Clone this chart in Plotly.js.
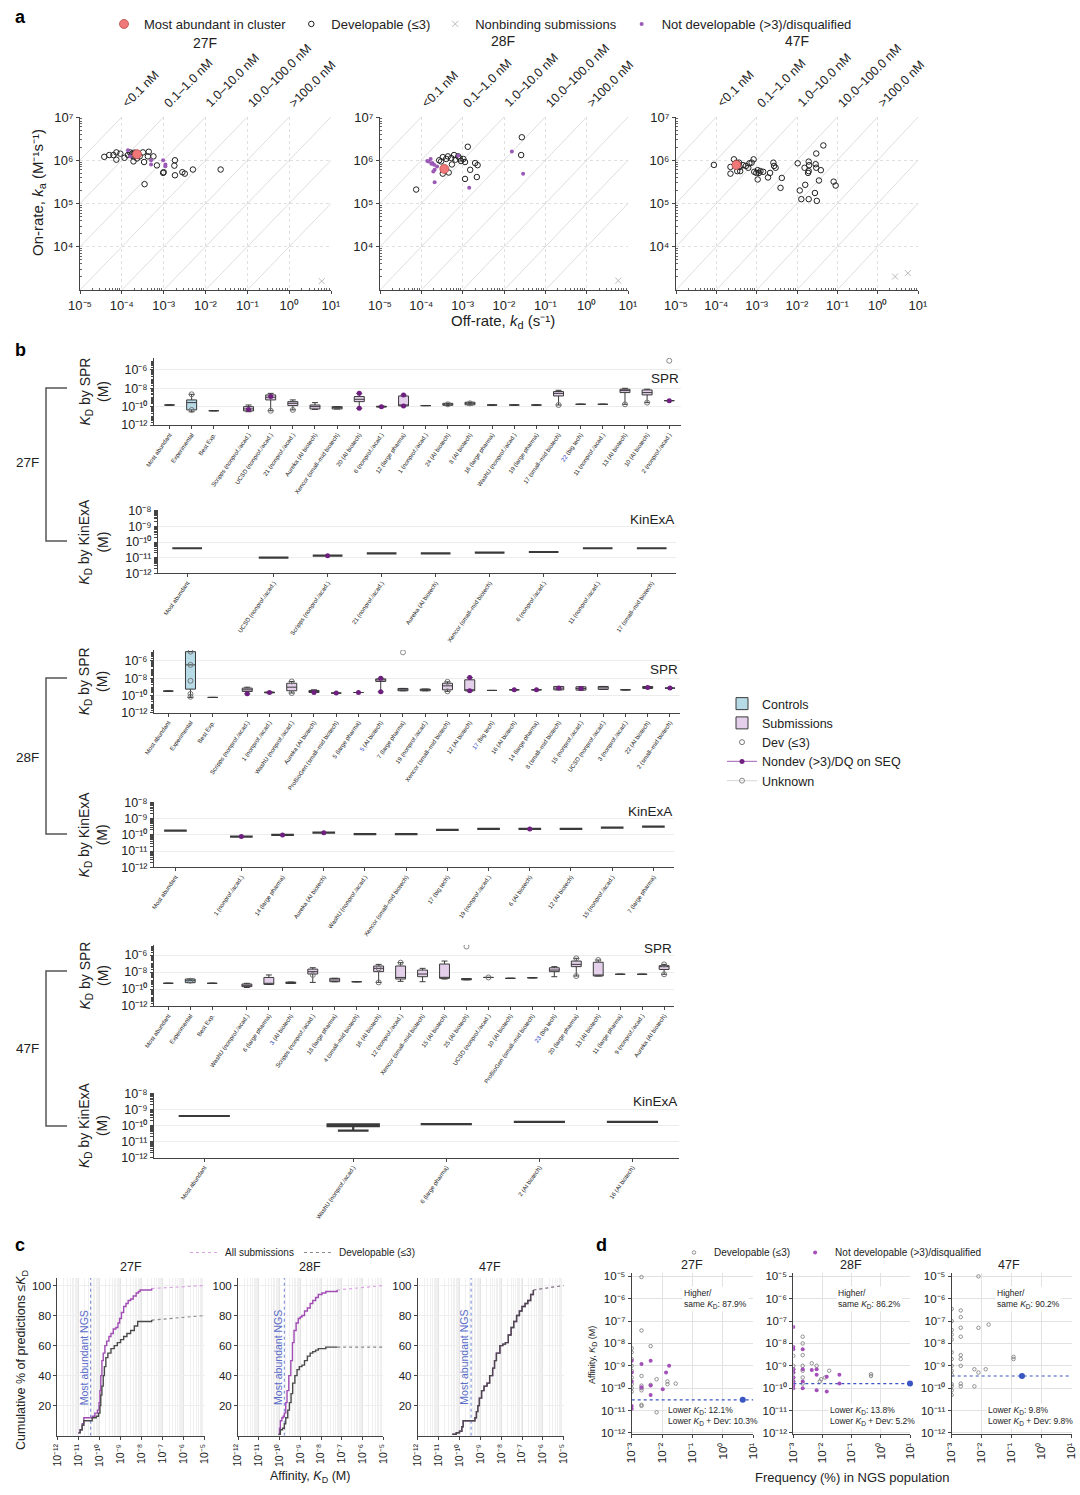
<!DOCTYPE html>
<html><head><meta charset="utf-8"><title>Figure</title>
<script src="https://cdn.plot.ly/plotly-3.0.1.min.js"></script>
<style>html,body{margin:0;padding:0;background:#fff}#fig{width:1080px;height:1495px}</style>
</head><body><div id="fig"></div>
<script>
// ======================= DATA =======================
// ---- Panel a: kinetics (kd in s^-1, ka in M^-1 s^-1)
const a27DevKd=[3.8e-5,5.0e-5,6.3e-5,7.4e-5,7.4e-5,9.2e-5,1.16e-4,1.4e-4,1.57e-4,1.76e-4,1.9e-4,1.9e-4,2.3e-4,2.67e-4,3.2e-4,3.4e-4,4.4e-4,4.2e-4,5.7e-4,6.9e-4,9.7e-4,1.0e-3,1.86e-3,1.8e-3,1.86e-3,2.8e-3,3.2e-3,5.0e-3,2.3e-2,3.5e-4,2.0e-4,1.7e-4];
const a27DevKa=[1.2e6,1.32e6,1.32e6,1.52e6,1.03e6,1.42e6,1.14e6,1.32e6,1.52e6,1.42e6,1.23e6,9.4e5,1.1e6,1.23e6,1.52e6,9.1e5,1.57e6,1.23e6,1.23e6,7.6e5,5.1e5,5.3e5,1.0e6,7.5e5,4.5e5,5.3e5,4.9e5,6.1e5,6.1e5,2.8e5,1.5e6,1.3e6];
const a27NdKd=[1.4e-4,1.57e-4,5.0e-4,5.0e-4,9.7e-4,1.1e-3,1.1e-3];
const a27NdKa=[1.7e6,1.23e6,1.0e6,8.0e5,1.0e6,8.0e5,7.3e5];
const a27MaKd=[2.3e-4], a27MaKa=[1.38e6];
const a27NbKd=[6.0], a27NbKa=[1.6e3];

const a28DevKd=[7.5e-5,2.7e-4,3.3e-4,4.0e-4,4.4e-4,5.3e-4,6.2e-4,6.7e-4,7.8e-4,9.1e-4,1.04e-3,1.14e-3,5.5e-4,3.3e-4,4.6e-4,1.33e-3,1.14e-3,1.52e-3,2.0e-3,2.3e-3,2.2e-3,2.6e-2,2.7e-2,3.0e-4,8.5e-4];
const a28DevKa=[2.1e5,1.0e6,1.18e6,1.07e6,1.23e6,1.12e6,1.32e6,1.03e6,1.23e6,9.6e5,1.07e6,9.1e5,8.0e5,4.9e5,5.2e5,2.05e6,3.7e5,6.0e5,8.6e5,7.7e5,4.1e5,1.32e6,3.4e6,9.4e5,1.1e6];
const a28NdKd=[1.39e-4,1.68e-4,1.85e-4,2.03e-4,2.1e-4,2.4e-4,1.95e-4,2.1e-4,7.8e-4,1.44e-3,1.55e-2,2.9e-2,1.5e-4,1.75e-4];
const a28NdKa=[9.6e5,1.07e6,8.6e5,7.9e5,6.0e5,7.2e5,5.5e5,3.1e5,1.27e6,2.3e5,1.6e6,4.9e5,9.3e5,8.3e5];
const a28MaKd=[3.6e-4], a28MaKa=[6.3e5];
const a28NbKd=[5.8], a28NbKa=[1.65e3];

const a47DevKd=[8.7e-5,2.24e-4,2.24e-4,2.73e-4,3.15e-4,3.46e-4,3.66e-4,3.8e-4,3.3e-4,3.9e-4,4.6e-4,5.4e-4,6.2e-4,6.6e-4,7.5e-4,8.4e-4,8.7e-4,9.8e-4,1.06e-3,1.14e-3,1.24e-3,1.45e-3,1.06e-3,1.91e-3,2.15e-3,2.6e-3,2.7e-3,2.95e-3,4.2e-3,3.9e-3,1.04e-2,1.54e-2,1.95e-2,2.0e-2,1.88e-2,1.95e-2,3.0e-2,2.9e-2,3.0e-2,3.9e-2,4.5e-2,3.5e-2,1.6e-2,1.17e-2,1.28e-2,1.95e-2,2.78e-2,3.1e-2,8.1e-2,9.1e-2];
const a47DevKa=[7.8e5,7.0e5,4.9e5,1.05e6,8.8e5,8.1e5,8.8e5,7.0e5,5.6e5,5.6e5,7.7e5,7.4e5,6.7e5,8.5e5,8.8e5,1.05e6,5.4e5,5.1e5,5.9e5,5.1e5,5.6e5,5.4e5,3.6e5,4.0e5,5.1e5,8.8e5,7.4e5,6.7e5,3.9e5,2.3e5,8.5e5,6.7e5,9.3e5,7.7e5,5.1e5,5.6e5,1.43e6,8.1e5,6.7e5,5.9e5,2.2e6,3.4e5,2.7e5,2.0e5,1.26e5,1.26e5,1.75e5,1.15e5,3.2e5,2.6e5];
const a47NdKd=[], a47NdKa=[];
const a47MaKd=[3.15e-4], a47MaKa=[7.8e5];
const a47NbKd=[2.7,5.6], a47NbKa=[2.05e3,2.45e3];

const isoKD=[1e-12,1e-11,1e-10,1e-9,1e-8,1e-7,1e-6,1e-5,1e-4];
const isoKaEnds=[1e3,1e7];
const regionLabels=['&lt;0.1 nM','0.1–1.0 nM','1.0–10.0 nM','10.0–100.0 nM','&gt;100.0 nM'];
const regionStartLogKd=[-4,-3,-2,-1,0];

// ---- Panel b: KD by SPR / KinExA (M); box statistics per entry
// 27F SPR
const b27sNames=['Most abundant','Experimental','Best Exp.','Scripps (nonprof./acad.)','UCSD (nonprof./acad.)','21 (nonprof./acad.)','Aureka (AI biotech)','Xencor (small–mid biotech)','20 (AI biotech)','6 (nonprof./acad.)','12 (large pharma)','1 (nonprof./acad.)','24 (AI biotech)','8 (AI biotech)','16 (large pharma)','WashU (nonprof./acad.)','19 (large pharma)','17 (small–mid biotech)','<span style="color:#2a3fc0">22</span> (big tech)','11 (nonprof./acad.)','13 (AI biotech)','10 (AI biotech)','2 (nonprof./acad.)'];
const b27sLo =[1.5e-10,2.8e-11,3.6e-11,2.8e-11,3.6e-11,4.4e-11,5.0e-11,5.6e-11,6.6e-11,9e-11,1.2e-10,1.3e-10,1.3e-10,1.5e-10,1.5e-10,1.5e-10,1.5e-10,1.5e-10,1.8e-10,1.8e-10,1.8e-10,2.75e-10,4.5e-10];
const b27sQ1 =[1.5e-10,4.4e-11,3.6e-11,3.4e-11,5.4e-10,1.3e-10,5.6e-11,5.6e-11,3.5e-10,9e-11,1.2e-10,1.3e-10,1.4e-10,1.6e-10,1.5e-10,1.5e-10,1.5e-10,1.45e-9,1.8e-10,1.8e-10,3.4e-9,1.9e-9,4.5e-10];
const b27sMed=[1.5e-10,2.75e-10,3.6e-11,5.6e-11,1.05e-9,2.3e-10,1.0e-10,7.9e-11,6.3e-10,1.0e-10,1.3e-10,1.3e-10,1.8e-10,2.3e-10,1.5e-10,1.5e-10,1.5e-10,2.8e-9,1.8e-10,1.8e-10,5.6e-9,3.4e-9,4.5e-10];
const b27sQ3 =[1.5e-10,5.4e-10,3.6e-11,1.0e-10,1.9e-9,3.5e-10,1.5e-10,1.0e-10,1.26e-9,1.1e-10,1.45e-9,1.3e-10,2.3e-10,3.0e-10,1.5e-10,1.5e-10,1.5e-10,4.4e-9,1.8e-10,1.8e-10,7.9e-9,6.6e-9,4.5e-10];
const b27sHi =[1.5e-10,2.2e-9,3.6e-11,1.5e-10,2.8e-9,5.4e-10,2.75e-10,1.0e-10,2.8e-9,1.1e-10,1.8e-9,1.3e-10,2.3e-10,3.0e-10,1.5e-10,1.5e-10,1.5e-10,6e-9,1.8e-10,1.8e-10,1.0e-8,8e-9,4.5e-10];
const b27sNdIdx=[3,4,8,8,9,10,10,22], b27sNdVal=[5.0e-11,1.3e-9,2.8e-9,6.6e-11,1.0e-10,1.2e-10,1.8e-9,4.5e-10];
const b27sDevIdx=[1,1,4,5,12,13,17,20,21], b27sDevVal=[2.2e-9,4.4e-11,3.6e-11,4.4e-11,1.8e-10,2.3e-10,1.5e-10,1.8e-10,2.75e-10];
const b27sUnkIdx=[22], b27sUnkVal=[1e-5];
// 27F KinExA
const b27kNames=['Most abundant','UCSD (nonprof./acad.)','Scripps (nonprof./acad.)','21 (nonprof./acad.)','Aureka (AI biotech)','Xencor (small–mid biotech)','6 (nonprof./acad.)','11 (nonprof./acad.)','17 (small–mid biotech)'];
const b27kVal=[4.0e-11,1.0e-11,1.35e-11,1.9e-11,1.9e-11,2.1e-11,2.3e-11,4.0e-11,4.0e-11];
const b27kNdIdx=[2], b27kNdVal=[1.35e-11];
// 28F SPR
const b28sNames=['Most abundant','Experimental','Best Exp.','Scripps (nonprof./acad.)','1 (nonprof./acad.)','WashU (nonprof./acad.)','Aureka (AI biotech)','ProBioGen (small–mid biotech)','5 (large pharma)','<span style="color:#2a3fc0">5</span> (AI biotech)','7 (large pharma)','19 (nonprof./acad.)','Xencor (small–mid biotech)','12 (AI biotech)','<span style="color:#2a3fc0">17</span> (big tech)','16 (AI biotech)','14 (large pharma)','8 (small–mid biotech)','15 (nonprof./acad.)','UCSD (nonprof./acad.)','3 (nonprof./acad.)','22 (AI biotech)','2 (small–mid biotech)'];
const b28sLo =[3.2e-10,5.9e-11,5.9e-11,1.55e-10,2.0e-10,1.9e-10,2.2e-10,1.9e-10,2.2e-10,2.6e-10,3.5e-10,3.5e-10,3.0e-10,3.0e-10,3.8e-10,4.5e-10,4.5e-10,4.5e-10,4.2e-10,5.0e-10,4.5e-10,6.5e-10,7.1e-10];
const b28sQ1 =[3.2e-10,5.4e-10,5.9e-11,2.9e-10,2.0e-10,3.5e-10,2.2e-10,1.9e-10,2.2e-10,4.2e-9,3.5e-10,3.5e-10,4.5e-10,3.5e-10,3.8e-10,4.5e-10,4.5e-10,4.5e-10,4.2e-10,5.0e-10,4.5e-10,6.5e-10,7.1e-10];
const b28sMed=[3.2e-10,3.5e-7,5.9e-11,4.5e-10,2.2e-10,9.1e-10,2.9e-10,1.9e-10,2.2e-10,6.5e-9,4.5e-10,4.5e-10,1.3e-9,4.5e-10,3.8e-10,4.5e-10,4.5e-10,7.1e-10,6.5e-10,7.6e-10,4.5e-10,8.3e-10,7.1e-10];
const b28sQ3 =[3.2e-10,1.2e-5,5.9e-11,7.1e-10,2.5e-10,2.6e-9,3.8e-10,1.9e-10,2.2e-10,8.3e-9,6.5e-10,5.5e-10,2.6e-9,6.5e-9,3.8e-10,4.5e-10,4.5e-10,1.1e-9,1.0e-9,1.1e-9,4.5e-10,1.1e-9,7.1e-10];
const b28sHi =[3.2e-10,1.2e-5,5.9e-11,9.1e-10,2.5e-10,4.2e-9,4.5e-10,1.9e-10,2.2e-10,1.0e-8,6.5e-10,5.5e-10,3.8e-9,1.2e-8,3.8e-10,4.5e-10,4.5e-10,1.1e-9,1.0e-9,1.1e-9,4.5e-10,1.1e-9,7.1e-10];
const b28sNdIdx=[3,4,6,7,8,9,9,13,13,15,16,17,18,21,22], b28sNdVal=[1.55e-10,2.2e-10,2.2e-10,1.9e-10,2.2e-10,1.0e-8,2.6e-10,1.2e-8,3.5e-10,4.5e-10,4.5e-10,7.1e-10,6.5e-10,8.3e-10,7.1e-10];
const b28sDevIdx=[1,1,1,1,1,5,5,12,12], b28sDevVal=[1.2e-5,3.5e-7,5.0e-9,1.5e-10,7e-11,4.2e-9,1.9e-10,3.8e-9,3.0e-10];
const b28sUnkIdx=[10], b28sUnkVal=[1e-5];
// 28F KinExA
const b28kNames=['Most abundant','1 (nonprof./acad.)','14 (large pharma)','Aureka (AI biotech)','WashU (nonprof./acad.)','Xencor (small–mid biotech)','17 (big tech)','19 (nonprof./acad.)','6 (AI biotech)','12 (AI biotech)','15 (nonprof./acad.)','7 (large pharma)'];
const b28kVal=[1.8e-10,7.8e-11,9.8e-11,1.35e-10,1.1e-10,1.1e-10,2.0e-10,2.3e-10,2.3e-10,2.3e-10,2.75e-10,3.2e-10];
const b28kNdIdx=[1,2,3,8], b28kNdVal=[7.8e-11,9.8e-11,1.35e-10,2.3e-10];
// 47F SPR
const b47sNames=['Most abundant','Experimental','Best Exp.','WashU (nonprof./acad.)','6 (large pharma)','<span style="color:#2a3fc0">3</span> (AI biotech)','Scripps (nonprof./acad.)','18 (large pharma)','4 (small–mid biotech)','16 (AI biotech)','12 (nonprof./acad.)','Xencor (small–mid biotech)','15 (AI biotech)','25 (AI biotech)','UCSD (nonprof./acad.)','10 (AI biotech)','ProBioGen (small–mid biotech)','<span style="color:#2a3fc0">23</span> (big tech)','20 (large pharma)','13 (AI biotech)','11 (large pharma)','9 (nonprof./acad.)','Aureka (AI biotech)'];
const b47sLo =[4.7e-10,5.6e-10,4.7e-10,1.5e-10,3.5e-10,4.5e-10,6.0e-10,7.2e-10,7.2e-10,6.0e-10,8e-10,7.2e-10,1.5e-9,1.2e-9,2.3e-9,1.8e-9,2.1e-9,2.8e-9,3.4e-9,3.4e-9,5.4e-9,5.4e-9,5.4e-9];
const b47sQ1 =[4.7e-10,5.6e-10,4.7e-10,1.9e-10,3.5e-10,4.5e-10,5.8e-9,7.2e-10,7.2e-10,1.1e-8,1.5e-9,2.8e-9,1.8e-9,1.2e-9,2.3e-9,1.8e-9,2.1e-9,1.1e-8,4.3e-8,3.4e-9,5.4e-9,5.4e-9,2.0e-8];
const b47sMed=[4.7e-10,9.5e-10,4.7e-10,2.7e-10,4.7e-10,5.6e-10,1.1e-8,1.15e-9,7.2e-10,2.7e-8,2.3e-9,5.8e-9,2.3e-9,1.4e-9,2.3e-9,1.8e-9,2.1e-9,1.7e-8,7.9e-8,3.4e-9,5.4e-9,5.4e-9,4.3e-8];
const b47sQ3 =[4.7e-10,1.5e-9,4.7e-10,3.9e-10,2.3e-9,6.5e-10,2.2e-8,1.8e-9,7.2e-10,5.1e-8,5.1e-8,1.7e-8,8.7e-8,1.7e-9,2.3e-9,1.8e-9,2.1e-9,3.2e-8,1.95e-7,1.4e-7,5.4e-9,5.4e-9,5.6e-8];
const b47sHi =[4.7e-10,1.5e-9,4.7e-10,4.7e-10,4.5e-9,6.5e-10,3.2e-8,1.8e-9,7.2e-10,7.9e-8,1.26e-7,2.7e-8,1.95e-7,1.7e-9,2.3e-9,1.8e-9,2.1e-9,4.3e-8,4.1e-7,2.6e-7,5.4e-9,5.4e-9,7.9e-8];
const b47sNdIdx=[], b47sNdVal=[];
const b47sDevIdx=[1,6,9,9,10,14,18,18,19,22,22], b47sDevVal=[9.5e-10,4.5e-9,2.7e-8,6e-10,1.26e-7,2.3e-9,4.1e-7,3.4e-9,2.6e-7,7.9e-8,5.4e-9];
const b47sUnkIdx=[13], b47sUnkVal=[1e-5];
// 47F KinExA
const b47kNames=['Most abundant','WashU (nonprof./acad.)','6 (large pharma)','2 (AI biotech)','16 (AI biotech)'];
const b47kLo =[3.9e-10,4.8e-11,1.23e-10,1.66e-10,1.66e-10];
const b47kQ1 =[3.9e-10,9.0e-11,1.23e-10,1.66e-10,1.66e-10];
const b47kMed=[3.9e-10,1.07e-10,1.23e-10,1.66e-10,1.66e-10];
const b47kQ3 =[3.9e-10,1.2e-10,1.23e-10,1.66e-10,1.66e-10];
const b47kHi =[3.9e-10,1.2e-10,1.23e-10,1.66e-10,1.66e-10];

// ---- Panel c: cumulative % of predictions <= KD
const c27AllKd=[1.0e-11,1.2e-11,1.5e-11,1.8e-11,4.5e-11,6e-11,8e-11,9.5e-11,1.05e-10,1.15e-10,1.3e-10,1.5e-10,1.8e-10,2.2e-10,2.8e-10,3.5e-10,4.5e-10,6e-10,7.5e-10,9e-10,1.1e-9,1.4e-9,1.8e-9,2.3e-9,3e-9,4e-9,5.5e-9,7e-9,8.5e-9,3e-8];
const c27AllPct=[2,4,8,12,13,15,17,22,30,40,50,55,60,63,66,68,71,72,75,78,82,86,88,90,91,93,95,96,97,98];
const c27DevKd=[1.0e-11,1.2e-11,1.5e-11,1.8e-11,4.5e-11,7e-11,9e-11,1.05e-10,1.15e-10,1.3e-10,1.5e-10,1.7e-10,2e-10,2.5e-10,3.5e-10,5e-10,7e-10,1.0e-9,1.4e-9,2e-9,3e-9,4.5e-9,6.5e-9,1.2e-8,3e-8];
const c27DevPct=[2,4,7,10,12,13,15,20,27,33,40,46,52,55,58,60,62,64,66,68,70,73,76,76,77];
const c27AllEnd=100, c27DevEnd=80, c27MA=3.8e-11;
const c28AllKd=[9e-11,1.0e-10,1.1e-10,1.3e-10,1.5e-10,1.7e-10,2.0e-10,2.3e-10,2.8e-10,3.5e-10,4.2e-10,5.0e-10,6.3e-10,8e-10,1.0e-9,1.2e-9,1.6e-9,2.2e-9,3e-9,4e-9,5.5e-9,7.4e-9,1.1e-8,1.7e-8,3e-8,6e-8];
const c28AllPct=[1,5,10,12,13,15,22,30,40,50,62,70,75,78,79,80,83,85,88,90,92,94,95,96,96,97];
const c28DevKd=[9e-11,1.1e-10,1.4e-10,1.7e-10,2.0e-10,2.5e-10,3.0e-10,3.6e-10,4.3e-10,5.5e-10,7e-10,9e-10,1.2e-9,1.6e-9,2.2e-9,3e-9,4e-9,5.5e-9,7.4e-9,1.1e-8,1.7e-8,3e-8,6e-8];
const c28DevPct=[1,4,5,8,12,17,22,28,35,40,44,46,47,50,53,55,56,57,58,58,59,59,59];
const c28AllEnd=100, c28DevEnd=59, c28MA=1.7e-10;
const c47AllKd=[4.5e-11,7e-11,1.0e-10,1.3e-10,1.5e-10,5.5e-10,6.5e-10,7.6e-10,9e-10,1.15e-9,1.5e-9,2.1e-9,2.8e-9,3.9e-9,4.8e-9,5.9e-9,8.7e-9,1.2e-8,1.6e-8,2.2e-8,3e-8,4e-8,5.5e-8,7.5e-8,1.0e-7,1.4e-7,1.9e-7,2.6e-7,3.5e-7];
const c47AllPct=[1,2,3,6,10,12,16,20,25,30,33,35,40,45,50,55,60,61,62,67,72,76,80,83,86,88,90,94,97];
const c47DevKd=c47AllKd.slice(), c47DevPct=c47AllPct.slice();
const c47AllEnd=100, c47DevEnd=100, c47MA=3.6e-10;

// ---- Panel d: frequency (%) in NGS population vs KD (M)
const d27DevF=[1e-3,1e-3,1e-3,1e-3,1e-3,1e-3,1e-3,1e-3,1e-3,2.1e-3,2.1e-3,2.1e-3,2.1e-3,2.1e-3,2.1e-3,2.1e-3,2.1e-3,4.2e-3,4.2e-3,6.6e-3,6.6e-3,1.5e-2,1.5e-2,2.8e-2];
const d27DevKd=[6e-9,4e-9,2e-9,1e-9,6e-10,3e-10,1.5e-10,1e-10,7e-11,9.3e-6,3.8e-8,3.5e-10,1.3e-10,1.0e-10,8e-11,1.6e-11,1.8e-11,7.6e-9,1.4e-10,2.5e-10,8.3e-12,2e-10,1.5e-10,1.6e-10];
const d27NdF=[1e-3,1e-3,1e-3,1e-3,1e-3,2.1e-3,2.1e-3,4.2e-3,4.2e-3,4.2e-3,1.05e-2,1.35e-2,1.7e-2];
const d27NdKd=[1.7e-9,5e-10,2e-10,1.2e-11,1.6e-11,1.2e-9,1.1e-10,1.7e-9,1.3e-10,5e-11,9e-11,5e-10,1.0e-9];
const d27MaF=[4.5], d27MaKd=[3.0e-11];
const d28DevF=[1e-3,1e-3,1e-3,1e-3,1e-3,1e-3,2.1e-3,2.1e-3,2.1e-3,2.1e-3,2.1e-3,2.1e-3,2.1e-3,4.3e-3,6.3e-3,8.1e-3,9e-3,1.23e-2,1.7e-2,0.46,0.46];
const d28DevKd=[2.8e-9,1e-9,7e-10,5e-10,3e-10,2e-10,2e-8,1e-8,3e-9,1e-9,6e-10,3e-10,1.6e-10,1.3e-9,1.0e-9,2.0e-10,2.5e-10,3e-10,6e-10,4.2e-10,3.5e-10];
const d28NdF=[1e-3,1e-3,1e-3,1e-3,1e-3,1e-3,1e-3,1e-3,1e-3,2.1e-3,2.1e-3,2.1e-3,2.1e-3,4.3e-3,6.3e-3,6.3e-3,6.3e-3,1.4e-2,1.4e-2,3.8e-2,3.8e-2];
const d28NdKd=[5.5e-8,7e-9,5.5e-9,7e-10,5e-10,3e-10,2e-10,1.3e-10,1e-10,5.5e-9,7e-10,2e-10,1e-10,6.5e-10,7e-10,4e-10,8e-11,3.2e-10,7e-11,4e-10,1.6e-10];
const d28MaF=[10], d28MaKd=[1.6e-10];
const d47DevF=[1e-3,1e-3,1e-3,1e-3,1e-3,1e-3,1e-3,1e-3,1e-3,1e-3,1e-3,1e-3,1e-3,1e-3,2.0e-3,2.0e-3,2.0e-3,2.0e-3,2.0e-3,2.0e-3,2.0e-3,2.0e-3,2.0e-3,5.7e-3,5.7e-3,7.8e-3,7.8e-3,7.8e-3,1.36e-2,1.7e-2,0.115,0.115];
const d47DevKd=[3.5e-7,1e-7,4e-8,2.5e-8,1.5e-8,4e-9,2e-9,1e-9,6e-10,4e-10,1.5e-10,1.2e-10,8e-11,5e-11,3e-7,1.5e-7,5e-8,2e-8,3e-9,2e-9,1e-9,1.6e-10,1.2e-10,7e-10,1.2e-10,1e-5,5e-8,5e-10,7e-10,7e-8,2.5e-9,2e-9];
const d47NdF=[], d47NdKd=[];
const d47MaF=[0.22], d47MaKd=[3.5e-10];
const dFreqEnds=[1e-3,10];
const dPct27=['87.9%','12.1%','10.3%'], dPct28=['86.2%','13.8%','5.2%'], dPct47=['90.2%','9.8%','9.8%'];

// ======================= HELPERS =======================
const W=1080,H=1495;
const FONT='"Liberation Sans", Arial, sans-serif';
const fx=p=>p/W, fy=p=>1-p/H;
const SUPCH={'0':'⁰','1':'¹','2':'²','3':'³','4':'⁴','5':'⁵','6':'⁶','7':'⁷','8':'⁸','9':'⁹','-':'⁻'};
const sup=e=>'10'+String(e).split('').map(c=>SUPCH[c]).join('');
const sb=(t,px)=>'<span style="font-size:'+px+'px;baseline-shift:-'+(px*0.3).toFixed(1)+'px">'+t+'</span>';
function logTicks(e0,e1){const v=[],t=[];for(let e=e0;e<=e1;e++){v.push(Math.pow(10,e));t.push(sup(e));}return {v,t};}
function minorVals(e0,e1){const m=[];for(let e=e0;e<e1;e++)for(let k=2;k<=9;k++)m.push(k*Math.pow(10,e));return m;}
const layout={width:W,height:H,margin:{l:0,r:0,t:0,b:0},paper_bgcolor:'#fff',plot_bgcolor:'rgba(0,0,0,0)',
  font:{family:FONT,size:11,color:'#222'},hovermode:false,annotations:[],shapes:[]};
const traces=[];
let nAx=0;
function addAxes(xa,ya){nAx++;const s=nAx===1?'':String(nAx);
  layout['xaxis'+s]=Object.assign({anchor:'y'+s},xa);layout['yaxis'+s]=Object.assign({anchor:'x'+s},ya);
  return {x:'x'+s,y:'y'+s};}
const axBase=o=>Object.assign({showline:true,linecolor:'#444',linewidth:1,ticks:'outside',ticklen:3,tickwidth:1,tickcolor:'#444',
  zeroline:false,showgrid:true,gridcolor:'#e0e0e0',griddash:'dot',gridwidth:1,tickfont:{size:11,color:'#222'},fixedrange:true},o);
function ann(text,x,y,o){layout.annotations.push(Object.assign({text,x:fx(x),y:fy(y),xref:'paper',yref:'paper',showarrow:false,
  font:{size:12,color:'#222'},xanchor:'center',yanchor:'middle'},o||{}));}

// ======================= PANEL A =======================
const aXT=logTicks(-5,1), aYT=logTicks(4,7);
function panelA(xd,dev,nd,ma,nb,first){
  const ax=addAxes(
    axBase({type:'log',range:[-5,1],domain:[fx(xd[0]),fx(xd[1])],tickmode:'array',tickvals:aXT.v,ticktext:aXT.t,tickfont:{size:13},
      minor:{tickmode:'array',tickvals:minorVals(-5,1),ticks:'inside',ticklen:2,tickcolor:'#666',showgrid:false}}),
    axBase({type:'log',range:[3,7],domain:[fy(290),fy(117)],tickmode:'array',tickvals:aYT.v,ticktext:aYT.t,tickfont:{size:13},
      minor:{tickmode:'array',tickvals:minorVals(3,7),ticks:'inside',ticklen:2,tickcolor:'#666',showgrid:false}}));
  const ix=[],iy=[];isoKD.forEach(k=>{ix.push(k*isoKaEnds[0],k*isoKaEnds[1],null);iy.push(isoKaEnds[0],isoKaEnds[1],null);});
  traces.push({type:'scatter',mode:'lines',x:ix,y:iy,xaxis:ax.x,yaxis:ax.y,line:{color:'#d6d6d6',width:0.8},showlegend:false,hoverinfo:'skip'});
  traces.push({type:'scatter',mode:'markers',x:nb[0],y:nb[1],xaxis:ax.x,yaxis:ax.y,name:'Nonbinding submissions',legendrank:3,showlegend:first,
    marker:{symbol:'x-thin',size:6,line:{color:'#bbbbbb',width:1}}});
  traces.push({type:'scatter',mode:'markers',x:dev[0],y:dev[1],xaxis:ax.x,yaxis:ax.y,name:'Developable (≤3)',legendrank:2,showlegend:first,
    marker:{symbol:'circle-open',size:5.5,color:'#222',line:{width:1}}});
  traces.push({type:'scatter',mode:'markers',x:nd[0],y:nd[1],xaxis:ax.x,yaxis:ax.y,name:'Not developable (&gt;3)/disqualified',legendrank:4,showlegend:first,
    marker:{symbol:'circle',size:4,color:'#9b59b6'}});
  traces.push({type:'scatter',mode:'markers',x:ma[0],y:ma[1],xaxis:ax.x,yaxis:ax.y,name:'Most abundant in cluster',legendrank:1,showlegend:first,
    marker:{symbol:'circle',size:9,color:'#f07878',line:{color:'#b84848',width:0.8}}});
  regionLabels.forEach((t,i)=>layout.annotations.push({text:t,x:regionStartLogKd[i]-0.12,y:fy(113),xref:ax.x,yref:'paper',showarrow:false,
    textangle:-45,xanchor:'left',yanchor:'bottom',font:{size:12.5,color:'#222'}}));
}
panelA([80,331],[a27DevKd,a27DevKa],[a27NdKd,a27NdKa],[a27MaKd,a27MaKa],[a27NbKd,a27NbKa],true);
panelA([380,628],[a28DevKd,a28DevKa],[a28NdKd,a28NdKa],[a28MaKd,a28MaKa],[a28NbKd,a28NbKa],false);
panelA([676,918],[a47DevKd,a47DevKa],[a47NdKd,a47NdKa],[a47MaKd,a47MaKa],[a47NbKd,a47NbKa],false);
ann('27F',205,43,{font:{size:14}});ann('28F',503,41,{font:{size:14}});ann('47F',797,41,{font:{size:14}});
ann('On-rate, <i>k</i>'+sb('a',11)+' (M⁻¹s⁻¹)',39,192,{textangle:-90,font:{size:15}});
ann('Off-rate, <i>k</i>'+sb('d',11)+' (s⁻¹)',503,321,{font:{size:15}});
layout.legend={orientation:'h',x:fx(104),y:fy(9),xanchor:'left',yanchor:'top',font:{size:13},bgcolor:'rgba(0,0,0,0)',itemwidth:30,traceorder:'normal'};

// ======================= PANEL B =======================
const CTRL_FILL='#b6dbe7', SUB_FILL='#e4d0ea', BOXLINE='#3a3a3a', ND_COL='#6e1f7f';
const kinYT=logTicks(-12,-8);
let bLegendShown=false;
function posOf(i,nctrl,gap){return i<nctrl?i:gap+(i-nctrl);}
function panelB(o){
  const n=o.names.length, pos=o.names.map((_,i)=>posOf(i,o.nctrl,o.gap));
  const isSpr=o.kind==='SPR';
  const yt=isSpr?{v:[1e-12,1e-10,1e-8,1e-6],t:[sup(-12),sup(-10),sup(-8),sup(-6)]}:kinYT;
  const ax=addAxes(
    axBase({range:o.xr,domain:[fx(o.xd[0]),fx(o.xd[1])],tickmode:'array',tickvals:pos,ticktext:o.names,tickangle:-55,
      tickfont:{size:6,color:'#222'},showgrid:false,ticklen:3}),
    axBase({type:'log',range:o.yr,domain:[fy(o.yd[1]),fy(o.yd[0])],tickmode:'array',tickvals:yt.v,ticktext:yt.t,griddash:'solid',gridcolor:'#ececec',
      tickfont:{size:12.5},
      minor:{tickmode:'array',tickvals:minorVals(-12,Math.ceil(o.yr[1])),ticks:'outside',ticklen:isSpr?2:3,tickcolor:'#444',showgrid:false}}));
  const groups=[[0,o.nctrl,'Controls',CTRL_FILL,1],[o.nctrl,n,'Submissions',SUB_FILL,2]];
  groups.forEach(g=>{
    const idx=[];for(let i=g[0];i<g[1];i++)idx.push(i);
    const pick=a=>idx.map(i=>a[i]);
    traces.push({type:'box',x:pick(pos),q1:pick(o.q1),median:pick(o.med),q3:pick(o.q3),lowerfence:pick(o.lo),upperfence:pick(o.hi),
      xaxis:ax.x,yaxis:ax.y,fillcolor:isSpr?g[3]:'#cfcfcf',line:{color:BOXLINE,width:isSpr?1:2.2},width:isSpr?0.45:0.55,whiskerwidth:0.6,
      boxpoints:false,name:g[2],legend:'legend2',legendrank:g[4],showlegend:!bLegendShown&&isSpr});
  });
  if(o.dev){traces.push({type:'scatter',mode:'markers',x:o.dev[0].map(i=>pos[i]),y:o.dev[1],xaxis:ax.x,yaxis:ax.y,name:'Dev (≤3)',legend:'legend2',legendrank:3,
    showlegend:!bLegendShown&&isSpr,marker:{symbol:'circle-open',size:5,color:'#777',line:{width:1}}});}
  if(o.nd&&o.nd[0].length){const xs=[],ys=[];o.nd[0].forEach((i,k)=>{xs.push(pos[i],null);ys.push(o.nd[1][k],null);});
    traces.push({type:'scatter',mode:'lines+markers',x:xs,y:ys,connectgaps:false,xaxis:ax.x,yaxis:ax.y,name:'Nondev (&gt;3)/DQ on SEQ',legend:'legend2',legendrank:4,
      showlegend:!bLegendShown&&isSpr,line:{color:'#b27cc0',width:1.2},marker:{size:5,color:ND_COL}});}
  if(o.unk){const xs=[],ys=[];o.unk[0].forEach((i,k)=>{xs.push(pos[i],null);ys.push(o.unk[1][k],null);});
    traces.push({type:'scatter',mode:'lines+markers',x:xs,y:ys,connectgaps:false,xaxis:ax.x,yaxis:ax.y,name:'Unknown',legend:'legend2',legendrank:5,
      showlegend:!bLegendShown&&isSpr,line:{color:'#dddddd',width:1.2},marker:{symbol:'circle-open',size:5,color:'#888',line:{width:1}}});}
  if(isSpr)bLegendShown=true;
  ann(o.kind==='SPR'?'SPR':'KinExA',o.labPos[0],o.labPos[1],{xanchor:'right',font:{size:13.5}});
  ann('<i>K</i>'+sb('D',10)+(isSpr?' by SPR':' by KinExA')+'<br>(M)',93,(o.yd[0]+o.yd[1])/2,{textangle:-90,font:{size:14}});
}
panelB({kind:'SPR',names:b27sNames,lo:b27sLo,q1:b27sQ1,med:b27sMed,q3:b27sQ3,hi:b27sHi,nctrl:3,gap:3.57,xr:[-0.7,23.1],xd:[154,681],yd:[358,425],yr:[-12,-4.7],
  nd:[b27sNdIdx,b27sNdVal],dev:[b27sDevIdx,b27sDevVal],unk:[b27sUnkIdx,b27sUnkVal],labPos:[681,378]});
panelB({kind:'KIN',names:b27kNames,lo:b27kVal,q1:b27kVal,med:b27kVal,q3:b27kVal,hi:b27kVal,nctrl:1,gap:1.6,xr:[-0.54,9.05],xd:[158,676],yd:[510,573.3],yr:[-12,-7.95],
  nd:[b27kNdIdx,b27kNdVal],labPos:[676,519]});
panelB({kind:'SPR',names:b28sNames,lo:b28sLo,q1:b28sQ1,med:b28sMed,q3:b28sQ3,hi:b28sHi,nctrl:3,gap:3.55,xr:[-0.64,23.0],xd:[154,680],yd:[650,712.7],yr:[-12,-4.73],
  nd:[b28sNdIdx,b28sNdVal],dev:[b28sDevIdx,b28sDevVal],unk:[b28sUnkIdx,b28sUnkVal],labPos:[680,669]});
panelB({kind:'KIN',names:b28kNames,lo:b28kVal,q1:b28kVal,med:b28kVal,q3:b28kVal,hi:b28kVal,nctrl:1,gap:1.6,xr:[-0.52,12.1],xd:[154,674],yd:[801.5,867.3],yr:[-12,-7.95],
  nd:[b28kNdIdx,b28kNdVal],labPos:[674,811]});
panelB({kind:'SPR',names:b47sNames,lo:b47sLo,q1:b47sQ1,med:b47sMed,q3:b47sQ3,hi:b47sHi,nctrl:3,gap:3.58,xr:[-0.65,23.03],xd:[154,674],yd:[945,1006],yr:[-12,-4.82],
  nd:[b47sNdIdx,b47sNdVal],dev:[b47sDevIdx,b47sDevVal],unk:[b47sUnkIdx,b47sUnkVal],labPos:[674,948]});
panelB({kind:'KIN',names:b47kNames,lo:b47kLo,q1:b47kQ1,med:b47kMed,q3:b47kQ3,hi:b47kHi,nctrl:1,gap:1.6,xr:[-0.54,5.1],xd:[154,679],yd:[1092.5,1157.7],yr:[-12,-7.95],
  labPos:[679,1101]});
// brackets
[[388,541,463,'27F'],[678,834,757,'28F'],[971,1126,1048,'47F']].forEach(b=>{
  layout.shapes.push({type:'path',xref:'paper',yref:'paper',path:`M ${fx(67)} ${fy(b[0])} L ${fx(46)} ${fy(b[0])} L ${fx(46)} ${fy(b[1])} L ${fx(67)} ${fy(b[1])}`,
    line:{color:'#555',width:1.5}});
  ann(b[3],27,b[2],{font:{size:13.5}});
});
layout.legend2={x:fx(722),y:fy(689),xanchor:'left',yanchor:'top',font:{size:12.5},bgcolor:'rgba(0,0,0,0)',itemwidth:30,tracegroupgap:0,traceorder:'normal'};

// ======================= PANEL C =======================
const cXT=logTicks(-12,-5);
function panelC(xd,all,dev,ends,ma,first){
  const ax=addAxes(
    axBase({type:'log',range:[-12,-5],domain:[fx(xd[0]),fx(xd[1])],tickmode:'array',tickvals:cXT.v,ticktext:cXT.t,tickangle:-90,tickfont:{size:10.5},
      griddash:'solid',gridcolor:'#e4e4e4',minor:{tickmode:'array',tickvals:minorVals(-12,-5),ticks:'',showgrid:true,gridcolor:'#f0f0f0',gridwidth:1}}),
    axBase({range:[0,105],domain:[fy(1435.7),fy(1278)],tickmode:'array',tickvals:[20,40,60,80,100],ticktext:['20','40','60','80','100'],
      griddash:'solid',gridcolor:'#eeeeee',tickfont:{size:11.5}}));
  traces.push({type:'scatter',mode:'lines',x:[ma,ma],y:[0,105],xaxis:ax.x,yaxis:ax.y,line:{color:'#6f80d2',width:1,dash:'dot'},showlegend:false});
  traces.push({type:'scatter',mode:'lines',x:[all[0][all[0].length-1],1e-5],y:[all[1][all[1].length-1],ends[0]],xaxis:ax.x,yaxis:ax.y,
    line:{color:'#d9a3e2',width:1.2,dash:'dot'},name:'All submissions',legend:'legend3',showlegend:first});
  traces.push({type:'scatter',mode:'lines',x:[dev[0][dev[0].length-1],1e-5],y:[dev[1][dev[1].length-1],ends[1]],xaxis:ax.x,yaxis:ax.y,
    line:{color:'#888',width:1.2,dash:'dot'},name:'Developable (≤3)',legend:'legend3',showlegend:first});
  traces.push({type:'scatter',mode:'lines',x:all[0],y:all[1],xaxis:ax.x,yaxis:ax.y,line:{color:'#a04cb4',width:1.4,shape:'hv'},showlegend:false});
  traces.push({type:'scatter',mode:'lines',x:dev[0],y:dev[1],xaxis:ax.x,yaxis:ax.y,line:{color:'#4a4a4a',width:1.4,shape:'hv'},showlegend:false});
  layout.annotations.push({text:'Most abundant NGS',x:Math.log10(ma),y:52,xref:ax.x,yref:ax.y,showarrow:false,textangle:-90,xshift:-7,
    font:{size:10.5,color:'#5a6cc8'}});
}
panelC([57.4,204.8],[c27AllKd,c27AllPct],[c27DevKd,c27DevPct],[c27AllEnd,c27DevEnd],c27MA,true);
panelC([238,383.3],[c28AllKd,c28AllPct],[c28DevKd,c28DevPct],[c28AllEnd,c28DevEnd],c28MA,false);
panelC([417.8,563.7],[c47AllKd,c47AllPct],[c47DevKd,c47DevPct],[c47AllEnd,c47DevEnd],c47MA,false);
ann('27F',131,1267,{font:{size:12.5}});ann('28F',310,1267,{font:{size:12.5}});ann('47F',490,1267,{font:{size:12.5}});
ann('Cumulative % of predictions ≤<i>K</i>'+sb('D',9),22,1360,{textangle:-90,font:{size:12.5}});
ann('Affinity, <i>K</i>'+sb('D',9)+' (M)',310,1477,{font:{size:12.5}});
layout.legend3={orientation:'h',x:fx(185),y:fy(1238),xanchor:'left',yanchor:'top',font:{size:10},bgcolor:'rgba(0,0,0,0)',itemwidth:30};

// ======================= PANEL D =======================
const dXT=logTicks(-3,1), dYT=logTicks(-12,-5);
function dTexts(p){const k='<i>K</i>'+sb('D',6.5);
  return ['Higher/<br>same '+k+': '+p[0],'Lower '+k+': '+p[1]+'<br>Lower '+k+' + Dev: '+p[2]];}
function panelD(xd,dev,nd,ma,pcts,tpos,first){
  const ax=addAxes(
    axBase({type:'log',range:[-3,1],domain:[fx(xd[0]),fx(xd[1])],tickmode:'array',tickvals:dXT.v,ticktext:dXT.t,tickangle:-90,tickfont:{size:11.5},
      griddash:'solid',gridcolor:'#e2e2e2'}),
    axBase({type:'log',range:[-12.05,-4.85],domain:[fy(1434),fy(1273)],tickmode:'array',tickvals:dYT.v,ticktext:dYT.t,tickfont:{size:11.5},
      griddash:'solid',gridcolor:'#e2e2e2'}));
  traces.push({type:'scatter',mode:'lines',x:dFreqEnds,y:[ma[1][0],ma[1][0]],xaxis:ax.x,yaxis:ax.y,line:{color:'#3a55c4',width:1.2,dash:'dot'},showlegend:false});
  traces.push({type:'scatter',mode:'markers',x:dev[0],y:dev[1],xaxis:ax.x,yaxis:ax.y,name:'Developable (≤3)',legend:'legend4',showlegend:first,
    marker:{symbol:'circle-open',size:3.5,color:'#777',line:{width:0.8}}});
  traces.push({type:'scatter',mode:'markers',x:nd[0],y:nd[1],xaxis:ax.x,yaxis:ax.y,name:'Not developable (&gt;3)/disqualified',legend:'legend4',showlegend:first,
    marker:{symbol:'circle',size:4,color:'#a350b8'}});
  traces.push({type:'scatter',mode:'markers',x:ma[0],y:ma[1],xaxis:ax.x,yaxis:ax.y,showlegend:false,marker:{symbol:'circle',size:6,color:'#3a55c4'},cliponaxis:false});
  const t=dTexts(pcts);
  ann(t[0],tpos[0],1299,{xanchor:'left',align:'left',bgcolor:'#fff',font:{size:8.5}});
  ann(t[1],tpos[1],1416,{xanchor:'left',align:'left',bgcolor:'#fff',font:{size:8.5}});
}
panelD([631.7,753.3],[d27DevF,d27DevKd],[d27NdF,d27NdKd],[d27MaF,d27MaKd],dPct27,[682,666],true);
panelD([793.3,910],[d28DevF,d28DevKd],[d28NdF,d28NdKd],[d28MaF,d28MaKd],dPct28,[836,828],false);
panelD([951.7,1071.7],[d47DevF,d47DevKd],[d47NdF,d47NdKd],[d47MaF,d47MaKd],dPct47,[995,986],false);
ann('27F',692,1265,{font:{size:12.5}});ann('28F',851,1265,{font:{size:12.5}});ann('47F',1009,1265,{font:{size:12.5}});
ann('Affinity, <i>K</i>'+sb('D',7)+' (M)',592,1355,{textangle:-90,font:{size:9}});
ann('Frequency (%) in NGS population',852,1477,{font:{size:13}});
layout.legend4={orientation:'h',x:fx(674),y:fy(1238),xanchor:'left',yanchor:'top',font:{size:10},bgcolor:'rgba(0,0,0,0)',itemwidth:30};

// panel letters
ann('<b>a</b>',20,17,{font:{size:18,color:'#000'}});
ann('<b>b</b>',20,350,{font:{size:18,color:'#000'}});
ann('<b>c</b>',20,1245,{font:{size:18,color:'#000'}});
ann('<b>d</b>',601,1245,{font:{size:18,color:'#000'}});

Plotly.newPlot('fig',traces,layout,{staticPlot:true,displayModeBar:false});
</script></body></html>
